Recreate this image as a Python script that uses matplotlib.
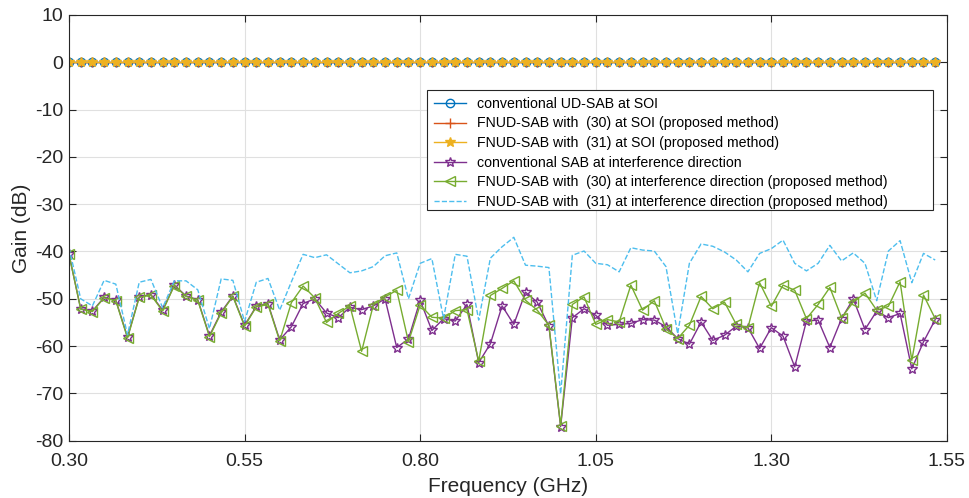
import numpy as np
import matplotlib
matplotlib.use("Agg")
import matplotlib.pyplot as plt
from matplotlib.patches import Rectangle

plt.rcParams['font.family'] = ['Liberation Sans', 'DejaVu Sans']
plt.rcParams['axes.unicode_minus'] = False

# frequency grid (GHz), 75 points spaced 1/60 GHz
freq = np.linspace(0.30, 0.30 + 74 / 60, 75)

# gains at the signal of interest (all flat at 0 dB)
ud_sab_soi = [0.0] * 75
fnud30_soi = [0.0] * 75
fnud31_soi = [0.0] * 75

# conventional SAB at interference direction
sab_intf = [-40.6, -52.1, -52.6, -49.7, -50.3, -58.1, -49.6, -49.1, -52.4, -47.1,
            -49.4, -50.2, -57.8, -52.8, -49.4, -55.6, -51.6, -51.0, -58.7, -55.9,
            -51.0, -50.0, -53.0, -54.0, -51.8, -52.3, -51.5, -50.0, -60.3, -58.5,
            -50.3, -56.7, -54.2, -54.7, -51.2, -63.5, -59.5, -51.5, -55.4, -48.6,
            -50.7, -55.8, -77.0, -54.0, -52.1, -53.5, -55.6, -55.4, -55.2, -54.4,
            -54.5, -55.9, -58.4, -59.6, -54.9, -58.8, -57.7, -55.8, -56.1, -60.5,
            -56.1, -57.9, -64.4, -54.7, -54.5, -60.3, -54.2, -50.0, -56.5, -52.6,
            -54.0, -53.1, -64.8, -59.1, -54.4]

# FNUD-SAB with (30) at interference direction
fnud30_intf = [-40.6, -52.2, -52.7, -49.8, -50.4, -58.3, -49.7, -49.2, -52.6, -47.2,
               -49.5, -50.3, -58.0, -53.0, -49.5, -55.8, -51.7, -51.2, -58.9, -50.8,
               -47.3, -49.8, -55.0, -53.1, -51.5, -61.1, -51.3, -49.6, -48.2, -59.1,
               -51.3, -53.9, -54.1, -52.5, -52.3, -63.2, -49.3, -47.8, -46.2, -50.3,
               -52.4, -55.6, -76.8, -51.2, -49.6, -55.4, -54.4, -54.9, -47.1, -52.4,
               -50.4, -56.3, -58.4, -55.6, -49.5, -52.1, -50.7, -55.4, -56.1, -46.6,
               -51.6, -47.1, -48.2, -54.2, -51.2, -47.6, -54.0, -50.7, -48.8, -52.4,
               -51.6, -46.4, -63.0, -49.2, -54.2]

# FNUD-SAB with (31) at interference direction
fnud31_intf = [-39.2, -50.0, -51.5, -46.1, -46.9, -57.6, -46.5, -45.9, -51.9, -46.2,
               -46.2, -48.1, -56.3, -45.8, -46.1, -54.8, -46.5, -45.7, -52.4, -46.4,
               -40.6, -41.3, -40.7, -42.6, -44.5, -44.1, -43.2, -40.9, -40.3, -50.0,
               -42.5, -41.5, -54.2, -40.6, -41.0, -54.5, -41.4, -39.0, -37.0, -42.9,
               -43.1, -43.4, -70.1, -40.8, -39.9, -42.5, -42.8, -44.3, -39.2, -39.7,
               -39.9, -43.2, -57.4, -42.5, -38.4, -38.9, -40.1, -41.8, -44.3, -40.4,
               -39.4, -37.6, -42.5, -44.1, -42.5, -38.7, -42.0, -40.3, -42.5, -50.4,
               -39.9, -37.7, -46.6, -40.4, -41.8]

xticks = [0.30, 0.55, 0.80, 1.05, 1.30, 1.55]
yticks = list(range(-80, 11, 10))

fig = plt.figure(figsize=(9.69, 4.98), dpi=100)
ax = fig.add_axes([0.0712, 0.115, 0.906, 0.855])

ax.plot(freq, ud_sab_soi, color=(0, 0.447, 0.741), marker='o', ms=6, mfc='none',
        lw=1, label='conventional UD-SAB at SOI')
ax.plot(freq, fnud30_soi, color=(0.85, 0.325, 0.098), marker='+', ms=7,
        lw=1, label='FNUD-SAB with  (30) at SOI (proposed method)')
ax.plot(freq, fnud31_soi, color=(0.929, 0.694, 0.125), marker='*', ms=7,
        lw=1, label='FNUD-SAB with  (31) at SOI (proposed method)')
ax.plot(freq, sab_intf, color=(0.494, 0.184, 0.556), marker='*', ms=7, mfc='none',
        lw=1, label='conventional SAB at interference direction')
ax.plot(freq, fnud30_intf, color=(0.466, 0.674, 0.188), marker='<', ms=7, mfc='none',
        lw=1, label='FNUD-SAB with  (30) at interference direction (proposed method)')
ax.plot(freq, fnud31_intf, color=(0.301, 0.745, 0.933), ls='--', lw=1,
        label='FNUD-SAB with  (31) at interference direction (proposed method)')

ax.set_xlim(0.30, 1.55)
ax.set_ylim(-80, 10)
ax.set_xticks(xticks)
ax.set_xticklabels(['%.2f' % t for t in xticks])
ax.set_yticks(yticks)
ax.tick_params(direction='in', labelsize=14, top=True, right=True, length=5,
               color='#262626', labelcolor='#262626')
ax.tick_params(axis='x', pad=9)
ax.tick_params(axis='y', pad=4)
ax.grid(True, color='#e0e0e0', lw=0.8)
ax.set_axisbelow(True)
for s in ax.spines.values():
    s.set_color('#262626')
    s.set_linewidth(0.8)

ax.set_xlabel('Frequency (GHz)', fontsize=15, color='#262626', labelpad=5)
ax.set_ylabel('Gain (dB)', fontsize=15, color='#262626', labelpad=3)

# legend box drawn separately so it has the wide MATLAB-like frame
box = Rectangle((0.408, 0.541), 0.576, 0.283, transform=ax.transAxes,
                facecolor='white', edgecolor='#262626', lw=0.8, zorder=5)
ax.add_patch(box)
leg = ax.legend(loc='upper left', bbox_to_anchor=(0.408, 0.824), fontsize=10.2,
                frameon=False, borderpad=0.5, labelspacing=0.39, handlelength=2.25,
                handletextpad=0.8, borderaxespad=0)
leg.set_zorder(6)

fig.savefig('out.png', dpi=100)
